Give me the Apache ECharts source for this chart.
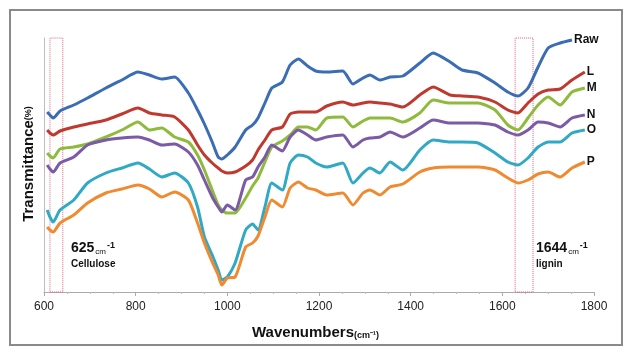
<!DOCTYPE html>
<html><head><meta charset="utf-8">
<script src="https://cdn.jsdelivr.net/npm/echarts@6/dist/echarts.min.js"></script>
<style>html,body{margin:0;padding:0;background:#fff}#c{width:636px;height:361px}</style>
</head><body><div id="c"></div>
<script>
const wavenumbers = [607,613,620,635,665,695,735,770,805,830,857,885,915,935,950,967,980,988,1000,1017,1040,1055,1067,1082,1097,1120,1137,1155,1175,1193,1217,1252,1274,1296,1311,1333,1355,1383,1420,1449,1486,1512,1547,1584,1612,1634,1656,1678,1700,1726,1752,1780];
const rawVals = [180,177,174,181,187,194,204,212,220,217,213,215,199,182,168,150,135,133,137,145,162,167,174,189,204,210,227,233,226,221,220,221,208,214,217,212,215,216,229,239,230,222,219,209,200,196,204,225,244,249,252];
const lVals = [162,159,157,161,165,168,172,178,184,179,177,175,162,147,137,129,124,121,119,120,126,132,142,152,162,165,178,180,180,180,186,190,187,189,190,189,188,185,197,205,197,196,195,190,182,179,189,198,202,203,212,220];
const mVals = [139,136,134,143,145,148,155,162,170,162,164,155,150,137,122,102,87,82,79,79,94,106,114,130,145,151,157,165,165,162,174,175,165,171,174,174,174,170,179,192,189,189,189,182,167,162,174,187,195,187,200,204];
const nVals = [127,123,120,129,135,147,152,154,155,152,147,148,140,127,112,95,85,80,87,82,112,115,125,135,147,141,155,162,157,152,155,157,145,152,154,155,160,155,164,172,169,169,169,167,160,157,162,170,169,165,174,177];
const oVals = [82,75,70,82,92,109,119,124,129,123,115,119,109,85,55,37,22,12,15,29,62,68,62,85,109,102,129,137,135,129,125,129,109,119,124,119,130,122,142,152,150,150,149,139,130,127,134,145,150,150,159,162];
const pVals = [65,62,60,69,77,89,99,103,107,103,95,100,92,69,49,30,17,7,14,15,45,49,56,75,92,85,104,110,104,102,97,99,87,99,102,97,105,108,120,124,125,125,125,122,114,109,112,118,120,115,124,130];
const seriesNames = ['Raw','L','M','N','O','P'];
const seriesColors = ['#3a6db4','#c0392f','#8fbb3c','#7b5aa6','#2fa9c4','#f08a30'];
const xTicks = [600,800,1000,1200,1400,1600,1800];
const bands = [[613,641],[1628,1667]];

const allVals = [rawVals,lVals,mVals,nVals,oVals,pVals];
const series = allVals.map((vals,i)=>({
  name: seriesNames[i], type:'line', symbol:'none', smooth:0.2,
  lineStyle:{width:3,color:seriesColors[i]}, itemStyle:{color:seriesColors[i]},
  data: vals.map((v,j)=>[wavenumbers[j],v]),
  endLabel:{show:true,formatter:'{a}',color:'#111',fontWeight:'bold',fontSize:12,distance:2,fontFamily:'Liberation Sans, Arial'},
  z: 3
}));
series.push({
  type:'line', data:[], silent:true,
  markArea:{silent:true,
    itemStyle:{color:'rgba(0,0,0,0)',borderColor:'#e0607e',borderWidth:1,borderType:'dotted'},
    data: bands.map(b=>[{xAxis:b[0]},{xAxis:b[1]}])}
});

const chart = echarts.init(document.getElementById('c'));
chart.setOption({
  animation:false,
  backgroundColor:'#fff',
  grid:{left:44,right:42,top:38,bottom:69},
  xAxis:{type:'value',min:600,max:1800,interval:200,
    axisLine:{lineStyle:{color:'#aaa'}},
    axisTick:{show:true,length:4,lineStyle:{color:'#aaa'}},
    minorTick:{show:true,splitNumber:4,length:2,lineStyle:{color:'#bbb'}},
    splitLine:{show:false},
    axisLabel:{color:'#222',fontSize:12,margin:9,fontFamily:'Liberation Sans, Arial',
      customValues: xTicks, formatter: v => String(v)}
  },
  yAxis:{type:'value',min:0,max:254,axisLine:{show:true,lineStyle:{color:'#c8b8c0'}},
    axisTick:{show:false},axisLabel:{show:false},splitLine:{show:false}},
  series: series,
  graphic:[
    {type:'rect',shape:{x:10,y:10,width:612,height:335},style:{fill:'none',stroke:'#8a8a8a',lineWidth:2},z:10},
    {type:'text',left:71,top:241,style:{text:'{a|625}{b|cm}{c|-1}\n{d|Cellulose}',rich:{
      a:{fontSize:14,fontWeight:'bold',fill:'#111',fontFamily:'Liberation Sans, Arial'},
      b:{fontSize:8,fill:'#111',verticalAlign:'bottom',padding:[4,0,0,1]},
      c:{fontSize:9,fontWeight:'bold',fill:'#111',verticalAlign:'top',padding:[0,0,6,1]},
      d:{fontSize:10,fontWeight:'bold',fill:'#111',lineHeight:16,fontFamily:'Liberation Sans, Arial'}}}},
    {type:'text',left:536,top:241,style:{text:'{a|1644}{b|cm}{c|-1}\n{d|lignin}',rich:{
      a:{fontSize:14,fontWeight:'bold',fill:'#111',fontFamily:'Liberation Sans, Arial'},
      b:{fontSize:8,fill:'#111',verticalAlign:'bottom',padding:[4,0,0,1]},
      c:{fontSize:9,fontWeight:'bold',fill:'#111',verticalAlign:'top',padding:[0,0,6,1]},
      d:{fontSize:10,fontWeight:'bold',fill:'#111',lineHeight:16,fontFamily:'Liberation Sans, Arial'}}}},
    {type:'text',left:252,top:325,style:{text:'{a|Wavenumbers}{b|(cm⁻¹)}',rich:{
      a:{fontSize:15,fontWeight:'bold',fill:'#111',fontFamily:'Liberation Sans, Arial'},
      b:{fontSize:9,fontWeight:'bold',fill:'#111',verticalAlign:'bottom',fontFamily:'Liberation Sans, Arial'}}}},
    {type:'text',x:29,y:164,rotation:Math.PI/2,style:{text:'{a|Transmittance}{b|(%)}',align:'center',verticalAlign:'middle',rich:{
      a:{fontSize:15,fontWeight:'bold',fill:'#111',fontFamily:'Liberation Sans, Arial'},
      b:{fontSize:9,fontWeight:'bold',fill:'#111',fontFamily:'Liberation Sans, Arial'}}}}
  ]
});
</script></body></html>
